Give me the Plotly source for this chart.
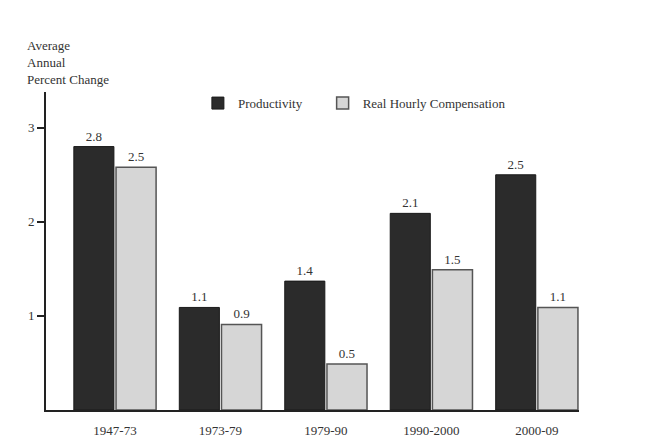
import plotly.graph_objects as go

periods = ["1947-73", "1973-79", "1979-90", "1990-2000", "2000-09"]
productivity = [2.8, 1.09, 1.37, 2.09, 2.5]
compensation = [2.58, 0.91, 0.49, 1.49, 1.09]
productivity_labels = ["2.8", "1.1", "1.4", "2.1", "2.5"]
compensation_labels = ["2.5", "0.9", "0.5", "1.5", "1.1"]
y_ticks = [1, 2, 3]

FONT = "Liberation Serif"

fig = go.Figure()
fig.add_trace(go.Bar(
    x=periods, y=productivity, name="Productivity", legend="legend",
    text=productivity_labels, textposition="outside",
    textfont=dict(family=FONT, size=13, color="#333"),
    marker=dict(color="#2b2b2b", line=dict(color="#1a1a1a", width=1)),
    cliponaxis=False,
))
fig.add_trace(go.Bar(
    x=periods, y=compensation, name="Real Hourly Compensation", legend="legend2",
    text=compensation_labels, textposition="outside",
    textfont=dict(family=FONT, size=13, color="#333"),
    marker=dict(color="#d6d6d6", line=dict(color="#555", width=1.5)),
    cliponaxis=False,
))

legend_common = dict(orientation="h", xanchor="left", yanchor="middle",
                     font=dict(family=FONT, size=13, color="#333"),
                     bgcolor="rgba(0,0,0,0)")

fig.update_layout(
    width=639, height=440,
    margin=dict(l=38, r=68, t=84, b=38, autoexpand=False),
    paper_bgcolor="white", plot_bgcolor="white",
    barmode="group", bargap=0.2, bargroupgap=0.05,
    font=dict(family=FONT, size=13, color="#333"),
    showlegend=True,
    legend=dict(x=0.285, y=0.965, **legend_common),
    legend2=dict(x=0.519, y=0.965, **legend_common),
    xaxis=dict(type="category", range=[-0.654, 4.4], showline=True, linecolor="#222", linewidth=2,
               ticks="", showgrid=False, automargin=False, ticklabelstandoff=7,
               tickfont=dict(family=FONT, size=13, color="#333")),
    yaxis=dict(range=[0, 3.38], showline=True, linecolor="#222", linewidth=2,
               ticks="outside", ticklen=7, tickcolor="#222", tickwidth=1.5,
               tickvals=y_ticks, showgrid=False, zeroline=False, automargin=False,
               tickfont=dict(family=FONT, size=13, color="#333")),
    annotations=[dict(
        text="Average<br>Annual<br>Percent Change", xref="paper", yref="paper",
        x=-0.04, y=1.177, xanchor="left", yanchor="top", align="left",
        showarrow=False, font=dict(family=FONT, size=13, color="#333"),
    )],
)

fig.write_html("out.html")
